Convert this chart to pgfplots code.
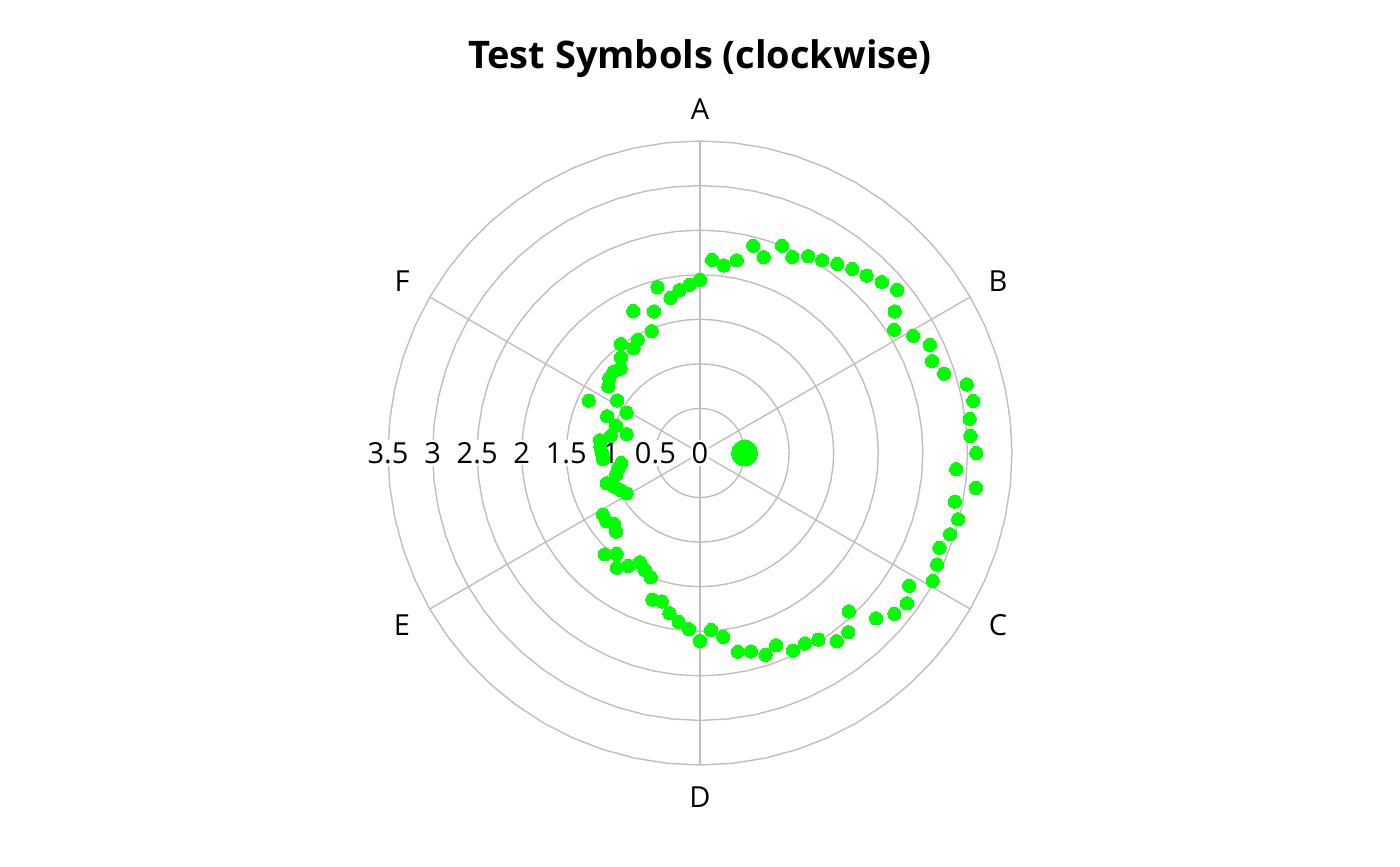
\documentclass[border=0pt]{standalone}
\usepackage{pgfplots}
\pgfplotsset{compat=1.18}
\usepackage{pgfplotstable}
\usepgfplotslibrary{polar}
\usepackage{fontspec}
\setmainfont{Open Sans}

\definecolor{ptgreen}{RGB}{0,255,0}
\definecolor{gridc}{RGB}{190,190,190}

% theta: degrees clockwise from A (top), r: radius
\pgfplotstableread{
theta r
0 1.94
3.6 2.17
7.2 2.12
10.8 2.20
14.4 2.40
18 2.31
21.6 2.50
25.2 2.43
28.8 2.52
32.4 2.56
36 2.62
39.6 2.68
43.2 2.73
46.8 2.80
50.4 2.87
54 2.70
57.6 2.58
61.2 2.73
64.8 2.85
68.4 2.80
72 2.88
75.6 3.09
79.2 3.12
82.8 3.05
86.4 3.04
90 3.10
93.6 2.88
97.2 3.12
100.8 2.91
104.4 2.99
108 2.95
111.6 2.89
115.2 2.94
118.8 2.98
122.4 2.78
126 2.87
129.6 2.83
133.2 2.71
136.8 2.44
140.4 2.61
144 2.61
147.6 2.48
151.2 2.44
154.8 2.45
158.4 2.32
162 2.38
165.6 2.30
169.2 2.27
172.8 2.08
176.4 1.99
180 2.11
183.6 1.98
187.2 1.91
190.8 1.83
194.4 1.72
198 1.73
201.6 1.50
205.2 1.45
208.8 1.40
212.4 1.50
216 1.59
219.6 1.47
223.2 1.56
226.8 1.29
230.4 1.25
234 1.30
237.6 1.29
241.2 0.94
244.8 0.98
248.4 1.03
252 1.10
255.6 0.97
259.2 0.93
262.8 0.89
266.4 1.09
270 1.10
273.6 1.12
277.2 1.13
280.8 1.02
284.4 0.85
288 0.99
291.6 1.12
295.2 1.38
298.8 0.94
302.4 1.10
306 1.27
309.6 1.32
313.2 1.33
316.8 1.30
320.4 1.39
324 1.51
327.6 1.39
331.2 1.45
334.8 1.76
338.4 1.47
342 1.67
345.6 1.92
349.2 1.77
352.8 1.84
356.4 1.89
}\symbols

\pgfplotstableread{
theta r
90 0.50
}\bigpoint

\begin{document}
\begin{tikzpicture}
\begin{polaraxis}[
    scale only axis,
    width=312pt, height=312pt,
    xmin=0, xmax=360,
    ymin=0, ymax=3.5,
    hide axis,
    clip=false,
    xtick=\empty, ytick=\empty,
]
% polygonal rings
\pgfplotsinvokeforeach{0.5,1,1.5,2,2.5,3,3.5}{
  \draw[gridc, line width=0.7pt] (axis cs:0,#1)
    \foreach \a in {6,12,...,354} { -- (axis cs:\a,#1) } -- cycle;
}
% spokes at the six categories
\pgfplotsinvokeforeach{30,90,150,210,270,330}{
  \draw[gridc, line width=0.7pt] (axis cs:0,0) -- (axis cs:#1,3.5);
}

\addplot[only marks, mark=*, mark size=3.3pt,
  mark options={draw=ptgreen, fill=ptgreen, line width=0pt}]
  table[x expr={mod(450-\thisrow{theta},360)}, y=r] {\symbols};
\addplot[only marks, mark=*, mark size=6.5pt,
  mark options={draw=ptgreen, fill=ptgreen, line width=0pt}]
  table[x expr={mod(450-\thisrow{theta},360)}, y=r] {\bigpoint};

% angular labels
\begin{scope}[every node/.style={font=\fontsize{14.5}{17}\selectfont}]
\node at (axis cs:90,3.86) {A};
\node at (axis cs:30,3.86) {B};
\node at (axis cs:330,3.86) {C};
\node at (axis cs:270,3.86) {D};
\node at (axis cs:210,3.86) {E};
\node at (axis cs:150,3.86) {F};
\end{scope}

% radial labels
\begin{scope}[every node/.style={font=\fontsize{14.5}{17}\selectfont, fill=white, inner xsep=0.5pt, inner ysep=1pt}]
\node at (axis cs:180,0) {0};
\node at (axis cs:180,0.5) {0.5};
\node at (axis cs:180,1) {1};
\node at (axis cs:180,1.5) {1.5};
\node at (axis cs:180,2) {2};
\node at (axis cs:180,2.5) {2.5};
\node at (axis cs:180,3) {3};
\node at (axis cs:180,3.5) {3.5};
\end{scope}

\node[font=\fontsize{19}{22}\selectfont\bfseries] at (axis cs:90,4.42) {Test Symbols (clockwise)};
\coordinate (c) at (axis cs:0,0);
\end{polaraxis}
\path (c) ++(-350pt,-206.5pt) rectangle ++(700pt,433pt);
\end{tikzpicture}
\end{document}
